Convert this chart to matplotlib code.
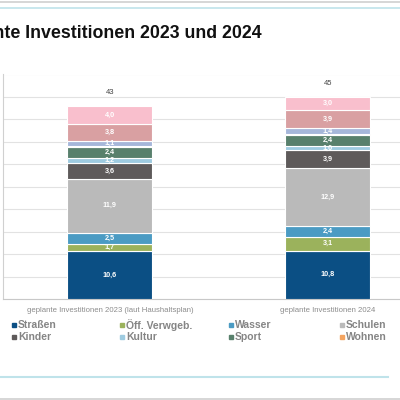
import matplotlib.pyplot as plt
import numpy as np
from matplotlib.patches import Rectangle
from matplotlib.lines import Line2D

plt.rcParams['font.family'] = ['Liberation Sans', 'DejaVu Sans']

# Daten
kategorien = ["geplante Investitionen 2023 (laut Haushaltsplan)",
              "geplante Investitionen 2024"]
bereiche = ["Straßen", "Öff. Verwgeb.", "Wasser", "Schulen",
            "Kinder", "Kultur", "Sport", "Wohnen",
            "Sonstiges 1", "Sonstiges 2", "Sonstiges 3"]
werte_2023 = [10.6, 1.7, 2.5, 11.9, 3.6, 1.2, 2.4, 0.2, 1.1, 3.8, 4.0]
werte_2024 = [10.8, 3.1, 2.4, 12.9, 3.9, 1.0, 2.4, 0.2, 1.4, 3.9, 3.0]
summen = [43, 45]
legende_sichtbar = 8

farben = ["#0b4f84", "#9bb25c", "#4b9bc3", "#bababa",
          "#5e5a5a", "#9ecbe0", "#58806c", "#f4a460",
          "#a6b7da", "#d9a0a2", "#f9bfcd"]

fig = plt.figure(figsize=(4, 4), dpi=100)

# Rahmenlinien der Folie
fig.add_artist(Line2D([0, 1], [1 - 1.5 / 400] * 2, color="#cfcfcf", lw=1.2))
fig.add_artist(Line2D([0, 1], [1 - 7.5 / 400] * 2, color="#bfe3ea", lw=1.2))
fig.add_artist(Line2D([0, 388 / 400], [1 - 377 / 400] * 2, color="#bfe3ea", lw=1.5))
fig.add_artist(Line2D([0, 1], [1 - 399 / 400] * 2, color="#cfcfcf", lw=1.2))

# Titel (links abgeschnitten wie im Original)
fig.text(262 / 400, 1 - 33 / 400, "Geplante Investitionen 2023 und 2024",
         ha="right", va="center", fontsize=12.8, fontweight="bold", color="#111111")

ax = fig.add_axes([3 / 400, 1 - 299 / 400, 436 / 400, 224.5 / 400])
x = np.arange(len(kategorien))
breite = 0.39
werte = np.array([werte_2023, werte_2024]).T
unten = np.zeros(len(kategorien))
for i, name in enumerate(bereiche):
    ax.bar(x, werte[i], breite, bottom=unten, color=farben[i],
           edgecolor="white", linewidth=0.8, zorder=3)
    for j in range(len(kategorien)):
        if werte[i, j] >= 1.0:
            ax.text(x[j], unten[j] + werte[i, j] / 2,
                    f"{werte[i, j]:.1f}".replace(".", ","),
                    ha="center", va="center", fontsize=5.2,
                    fontweight="bold", color="white", zorder=4)
    unten += werte[i]

for j, s in enumerate(summen):
    ax.text(x[j], unten[j] + 2.9, str(s), ha="center", va="center",
            fontsize=5.5, color="#444444")

ax.set_xlim(-0.49, 1.51)
ax.set_ylim(0, 50)
ax.set_yticks(np.arange(0, 51, 5))
ax.set_yticklabels([])
ax.tick_params(axis="y", length=0)
ax.grid(axis="y", color="#e2e2e2", lw=0.8, zorder=0)
ax.set_xticks(x)
ax.set_xticklabels(kategorien, fontsize=5.6, color="#8c8c8c")
ax.tick_params(axis="x", length=0, pad=6)
for side in ["top", "right"]:
    ax.spines[side].set_visible(False)
ax.spines["left"].set_color("#d0d0d0")
ax.spines["bottom"].set_color("#c8c8c8")

# Legende
spalten_x = [12, 120, 229, 340]
zeilen_y = [325, 337]
for i in range(legende_sichtbar):
    zeile, spalte = divmod(i, 4)
    px, py = spalten_x[spalte], zeilen_y[zeile]
    fig.add_artist(Rectangle((px / 400, 1 - (py + 2) / 400), 4 / 400, 4 / 400,
                             color=farben[i], transform=fig.transFigure))
    fig.text((px + 6) / 400, 1 - py / 400, bereiche[i], ha="left", va="center",
             fontsize=7.5, fontweight="bold", color="#858585")

fig.savefig("out.png", dpi=100)
